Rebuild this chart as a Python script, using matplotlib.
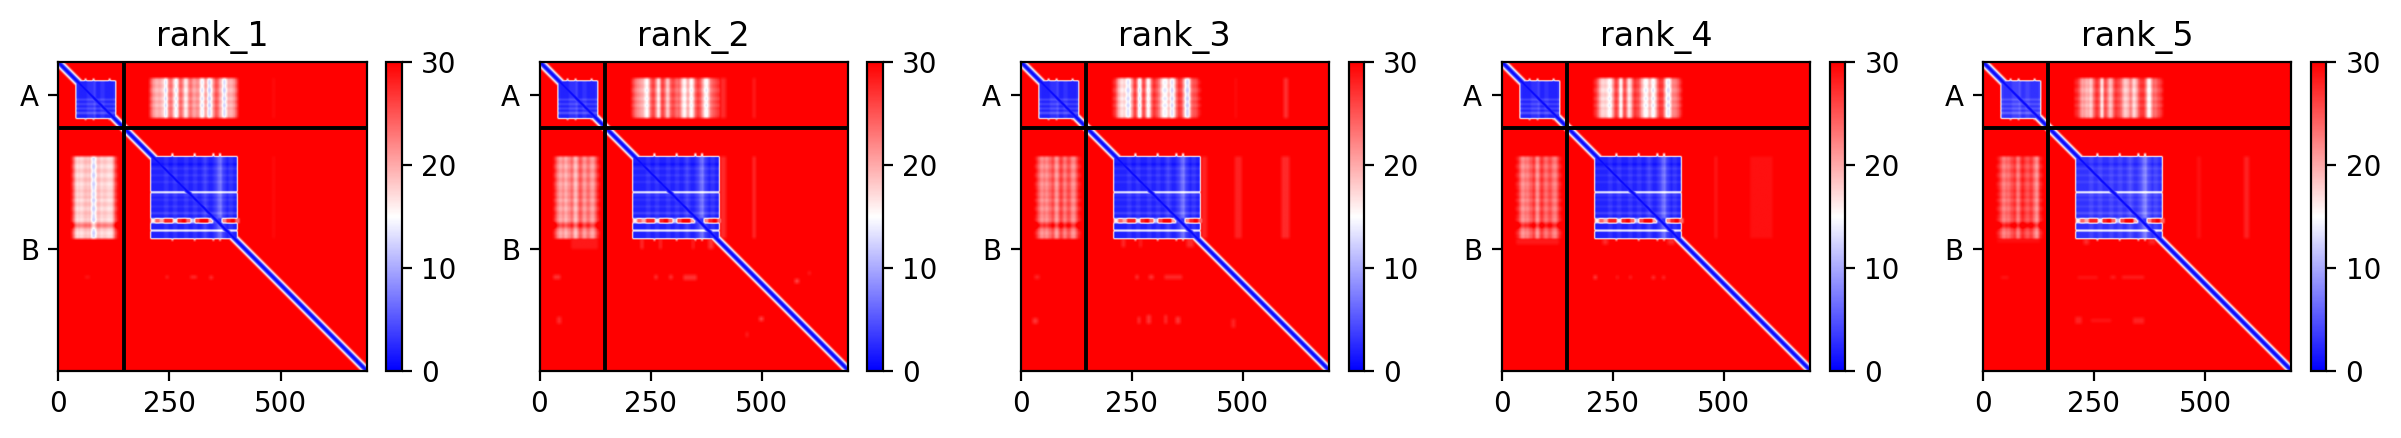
import numpy as np
import matplotlib
matplotlib.use("Agg")
import matplotlib.pyplot as plt

n_res = 694
chain_break = 148
chain_labels = ["A", "B"]
rank_names = ["rank_1", "rank_2", "rank_3", "rank_4", "rank_5"]

# pae against distance from the diagonal, one value per residue of distance
diag_profile = [0.5, 0.7, 1, 1.5, 2.5, 4, 6, 8, 10.5, 13, 15.5, 18, 20.5, 23, 25, 27, 28.5, 29.5]

# domain blocks, 5 residue bins
block_a_rows = [2, 2, 2, 2, 2, 2, 2, 2, 4, 2, 4, 2, 4, 2, 5, 2, 2]
block_a_cols = [1, 0, 0, 0, 0, 1, 1, 1, 2, 0, 0, 1, 1, 0, 0, 0, 0, 1]
block_b_rows = [2, 2, 2, 1, 2, 3, 2, 2, 3, 2, 2, 3, 2, 2, 2, 2, 3, 3, 2,
                3, 2, 2, 3, 2, 2, 4, 2, 2, 3, 2, 2, 2, 2, 3, 2, 2, 2]
block_b_cols = [0, 0, 0, 0, 0, 0, 1, 1, 0, 0, 1, 1, 0, 0, 0, 1, 1, 0, 0, 1,
                1, 0, 0, 1, 2, 1, 0, 0, 1, 2, 4, 5, 2, 1, 0, 1, 1, 0, 0]
block_b_light_rows = [291, 292, 293, 377, 378, 379]
gap_levels = [16, 24, 20, 28, 28, 14, 28, 30, 24, 12, 26, 30, 30, 20, 5, 3, 22, 28, 30, 24]
b_spike_cols = [257, 307, 349, 364]
a_spike_cols = [80, 62, 116]

# off-diagonal blocks: B columns against A rows, 5 residue bins from residue 205
cross_ab_1 = [26, 22, 20, 19, 20, 19, 17, 12, 20, 24, 21, 15, 14, 23, 24, 19, 15, 20, 24, 21,
              20, 22, 20, 13, 16, 22, 13, 13, 19, 24, 25, 21, 18, 12, 15, 20, 19, 20, 22, 26]
cross_ab_2 = [27, 24, 22, 21, 20, 19, 15, 15, 22, 26, 25, 19, 15, 25, 26, 21, 17, 23, 26, 25,
              23, 24, 20, 15, 16, 21, 15, 15, 22, 26, 26, 23, 18, 14, 16, 22, 24, 25, 26, 27]
cross_ab_3 = [28, 26, 21, 18, 16, 18, 14, 13, 18, 24, 27, 18, 12, 24, 26, 17, 14, 22, 27, 26,
              24, 21, 16, 14, 15, 19, 13, 14, 21, 26, 27, 24, 17, 12, 14, 23, 25, 25, 27, 29]
cross_ab_4 = [28, 26, 22, 18, 17, 18, 16, 14, 18, 24, 27, 21, 13, 24, 26, 18, 16, 22, 27, 26,
              25, 21, 17, 14, 16, 20, 14, 15, 21, 26, 27, 25, 17, 13, 15, 22, 22, 23, 25, 28]
cross_ab_5 = [28, 27, 24, 20, 21, 19, 20, 17, 22, 26, 27, 23, 14, 25, 25, 20, 18, 23, 27, 26,
              25, 22, 18, 18, 20, 23, 17, 18, 22, 26, 27, 26, 20, 14, 18, 24, 23, 25, 26, 28]

# A columns against B rows, 5 residue bins from residue 30
cross_ba_1 = [27, 21, 17, 18, 17, 18, 19, 18, 19, 13, 13, 18, 19, 17, 18, 18, 17, 17, 18, 24, 28]
cross_ba_2 = [28, 24, 21, 20, 22, 19, 21, 22, 24, 19, 19, 24, 25, 21, 21, 24, 22, 20, 22, 26, 29]
cross_ba_3 = [29, 26, 23, 21, 23, 21, 23, 24, 26, 21, 21, 26, 26, 22, 24, 26, 23, 21, 23, 27, 29]
cross_ba_4 = [29, 27, 23, 21, 23, 22, 24, 25, 27, 21, 22, 27, 26, 23, 24, 26, 24, 22, 23, 27, 29]
cross_ba_5 = [29, 27, 24, 22, 24, 23, 25, 26, 27, 22, 24, 28, 27, 25, 25, 27, 25, 22, 21, 27, 29]

a_cross_rows = [1, 0, 0, 1, 0, -1, 0, 1, 0, -1, 1, 0, -1, 1, 0, 0, 0, 1]
b_cross_rows = [0, 0, 1, 0, -1, 0, 1, 0, -1, 0, 1, 0, -1, 0, 0, 1, 0, 0, 1,
                -1, 0, 1, 0, -1, 0, 1, 0, 0, -1, 1, 5, 5, 1, 0, -1, 0, 0]

# faint patches: row from, row to, column from, column to, pae
faint_1 = [(212, 396, 482, 487, 29), (36, 126, 482, 487, 29), (480, 486, 60, 72, 28.5),
           (480, 486, 242, 248, 27), (480, 486, 297, 312, 27), (480, 488, 340, 348, 27)]
faint_2 = [(212, 396, 478, 484, 27), (36, 126, 478, 484, 28), (212, 396, 405, 418, 27.5),
           (36, 126, 405, 418, 27.5), (396, 420, 70, 130, 28.5), (396, 420, 226, 232, 27),
           (396, 420, 268, 273, 27), (396, 420, 342, 346, 27), (396, 420, 378, 390, 27),
           (478, 488, 30, 46, 27), (478, 488, 257, 264, 27), (478, 488, 290, 298, 27),
           (478, 490, 322, 352, 27), (487, 497, 572, 582, 26), (470, 478, 602, 608, 28),
           (572, 582, 492, 502, 26), (606, 618, 462, 468, 28), (572, 588, 38, 48, 27.5)]
faint_3 = [(212, 396, 480, 496, 28), (212, 396, 585, 603, 27.5), (36, 126, 590, 600, 27),
           (36, 126, 480, 485, 29), (212, 396, 405, 418, 28), (396, 416, 226, 234, 27.5),
           (396, 416, 266, 271, 27.5), (396, 416, 372, 388, 27.5), (478, 488, 30, 42, 28),
           (478, 488, 257, 264, 27), (478, 488, 287, 298, 27), (478, 488, 322, 362, 27.5),
           (575, 588, 26, 38, 27), (572, 588, 262, 268, 27), (568, 588, 282, 292, 27),
           (568, 588, 322, 328, 27), (572, 588, 347, 358, 27), (577, 597, 472, 482, 28)]
faint_4 = [(212, 396, 478, 483, 28), (212, 396, 557, 608, 29), (396, 410, 32, 128, 28.5),
           (396, 410, 226, 238, 27.5), (396, 410, 372, 388, 27.5), (479, 488, 206, 213, 26),
           (480, 487, 257, 261, 27), (480, 487, 286, 291, 27), (480, 488, 336, 344, 27),
           (480, 488, 360, 366, 27)]
faint_5 = [(212, 396, 480, 490, 29), (212, 396, 586, 598, 28), (396, 406, 32, 128, 29),
           (396, 410, 226, 238, 27.5), (396, 410, 372, 388, 28), (481, 487, 40, 58, 28.5),
           (481, 487, 212, 258, 28.5), (480, 487, 286, 298, 28), (480, 487, 312, 362, 28),
           (572, 588, 207, 222, 28), (577, 584, 242, 288, 28.5), (574, 588, 337, 362, 28)]

cross_ab = [cross_ab_1, cross_ab_2, cross_ab_3, cross_ab_4, cross_ab_5]
cross_ba = [cross_ba_1, cross_ba_2, cross_ba_3, cross_ba_4, cross_ba_5]
faints = [faint_1, faint_2, faint_3, faint_4, faint_5]
block_shift = [0, 0, 0, 0, 1]


def smooth(mat, size):
    # box blur along both axes, background padding keeps the edges red
    kernel = np.ones(size) / size
    pad = size // 2
    out = np.pad(mat, pad, mode="edge")
    out = np.apply_along_axis(lambda v: np.convolve(v, kernel, mode="same"), 0, out)
    out = np.apply_along_axis(lambda v: np.convolve(v, kernel, mode="same"), 1, out)
    return out[pad:-pad, pad:-pad]


def build_pae(ab, ba, faint, shift):
    cross = np.full((n_res, n_res), 30.0)
    spots = np.full((n_res, n_res), 30.0)
    block = np.full((n_res, n_res), 30.0)

    # chain A rows x chain B columns
    rows = np.repeat(a_cross_rows, 5)
    cols = np.repeat(ab, 5)
    cross[36:36 + len(rows), 205:205 + len(cols)] = cols[None, :] + rows[:, None]

    # chain B rows x chain A columns
    rows = np.repeat(b_cross_rows, 5)
    cols = np.repeat(ba, 5)
    cross[212:212 + len(rows), 30:30 + len(cols)] = cols[None, :] + rows[:, None]

    for r0, r1, c0, c1, val in faint:
        spots[r0:r1, c0:c1] = np.minimum(spots[r0:r1, c0:c1], val)

    # domain of chain A
    rows = np.repeat(block_a_rows, 5)
    cols = np.repeat(block_a_cols, 5)
    block[42:42 + len(rows), 40:40 + len(cols)] = cols[None, :] + rows[:, None] + shift

    # domain of chain B
    rows = np.repeat(block_b_rows, 5)
    cols = np.repeat(block_b_cols, 5)
    block[212:212 + len(rows), 208:208 + len(cols)] = cols[None, :] + rows[:, None] + shift
    block[block_b_light_rows, 208:403] = 20
    block[351:362, 208:408] = np.repeat(gap_levels, 10)

    for c in b_spike_cols:
        block[205:212, c - 2:c + 2] = 13
        block[397:402, c - 2:c + 2] = 20
    for c in a_spike_cols:
        block[37:42, c - 2:c + 2] = 15
        block[127:131, c - 2:c + 2] = 20

    dist = np.abs(np.subtract.outer(np.arange(n_res), np.arange(n_res)))
    table = np.array(diag_profile + [30.0])
    diag = table[np.minimum(dist, len(diag_profile))]

    out = np.minimum(smooth(cross, 7), smooth(spots, 9))
    return np.minimum(np.minimum(out, smooth(block, 5)), diag)


W, H = 2401, 438
fig = plt.figure(figsize=(W / 200, H / 200), dpi=200)
ticks_y = [chain_break / 2, chain_break + (n_res - chain_break) / 2]

for k, name in enumerate(rank_names):
    left = 58.3 + 481.1 * k
    ax = fig.add_axes([left / W, 1 - 370.7 / H, 308.6 / W, 308.4 / H])
    pae = build_pae(cross_ab[k], cross_ba[k], faints[k], block_shift[k])
    im = ax.imshow(pae, cmap="bwr", vmin=0, vmax=30, extent=(0, n_res, n_res, 0))
    ax.vlines(chain_break - 0.5, 0, n_res, colors="black", linewidth=1.4)
    ax.hlines(chain_break - 0.5, 0, n_res, colors="black", linewidth=1.4)
    ax.set_xlim(0, n_res)
    ax.set_ylim(n_res, 0)
    ax.set_xticks([0, 250, 500])
    ax.set_yticks(ticks_y)
    ax.set_yticklabels(chain_labels)
    ax.set_title(name, fontsize=12)

    cax = fig.add_axes([(left + 328) / W, 1 - 370.7 / H, 15.4 / W, 308.4 / H])
    cbar = fig.colorbar(im, cax=cax)
    cbar.set_ticks([0, 10, 20, 30])

fig.savefig("out.png", dpi=200)
